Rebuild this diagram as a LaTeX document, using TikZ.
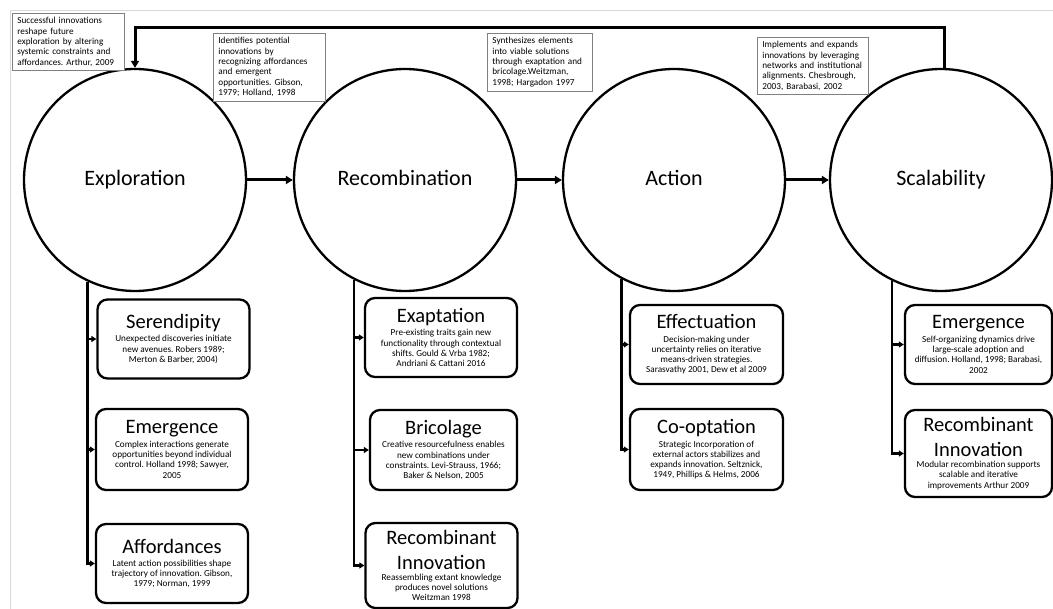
\documentclass[tikz,border=0pt]{standalone}
\usepackage{fontspec}
\setmainfont{Carlito}
\usetikzlibrary{arrows.meta}
\frenchspacing
\definecolor{framecol}{HTML}{D9D9D9}
\definecolor{notecol}{HTML}{808080}
\newcommand{\headfont}{\fontsize{20.5}{22}\selectfont}
\tikzset{
  stage/.style={circle, draw, line width=2.3pt, minimum size=222pt, inner sep=0pt, text height=15pt, text depth=4pt, font=\fontsize{22}{26}\selectfont},
  note/.style={rectangle, draw=notecol, line width=0.8pt, fill=white, anchor=north west, align=left, inner xsep=5pt, inner ysep=4pt, font=\fontsize{9.2}{10.4}\selectfont},
  itembox/.style={rectangle, rounded corners=10pt, draw, line width=2.3pt, fill=white, align=center, minimum width=152pt, minimum height=79pt, inner sep=3pt, font=\fontsize{9.2}{10.3}\selectfont},
  flow/.style={-{Triangle[length=7pt, width=8pt]}, line width=3pt},
  branch/.style={-{Triangle[length=5pt, width=6pt]}, line width=2.3pt},
}
\begin{document}
\begin{tikzpicture}[x=1pt, y=-1pt]
  \useasboundingbox (0,0) rectangle (1053,609);
  \draw[framecol, line width=0.8pt] (10,609) |- (1053,10);

  \node[stage] (expl)   at (135,180) {Exploration};
  \node[stage] (recomb) at (405,180) {Recombination};
  \node[stage] (action) at (674,180) {Action};
  \node[stage] (scal)   at (941,180) {Scalability};
  \draw[flow] (expl) -- (recomb);
  \draw[flow] (recomb) -- (action);
  \draw[flow] (action) -- (scal);
  \coordinate (top) at (0,28);
  \draw[flow] (scal.88) -- (scal.88 |- top) -| (expl.north);

  \node[note, text width=102pt] (n1) at (12,13) {Successful innovations\\reshape future\\exploration by altering\\systemic constraints and\\affordances. Arthur, 2009};
  \node[note, text width=102pt] (n2) at (213,33) {Identifies potential\\innovations by\\recognizing affordances\\and emergent\\opportunities. Gibson,\\1979; Holland, 1998};
  \node[note, text width=95pt] (n3) at (487,33) {Synthesizes elements\\into viable solutions\\through exaptation and\\bricolage.Weitzman,\\1998; Hargadon 1997};
  \node[note, text width=101pt] (n4) at (757,37) {Implements and expands\\innovations by leveraging\\networks and institutional\\alignments. Chesbrough,\\2003, Barabasi, 2002};

  \node[itembox] (seren) at (173.5,339) {{\headfont Serendipity}\\[3pt]Unexpected discoveries initiate\\new avenues. Robers 1989;\\Merton \& Barber, 2004)};
  \node[itembox, minimum height=81pt] (emerg) at (172,449.5) {{\headfont Emergence}\\[3pt]Complex interactions generate\\opportunities beyond individual\\control. Holland 1998; Sawyer,\\2005};
  \node[itembox] (afford) at (172,563.5) {{\headfont Affordances}\\[3pt]Latent action possibilities shape\\trajectory of innovation. Gibson,\\1979; Norman, 1999};

  \node[itembox] (exapt) at (441,337.5) {{\headfont Exaptation}\\[3pt]Pre-existing traits gain new\\functionality through contextual\\shifts. Gould \& Vrba 1982;\\Andriani \& Cattani 2016};
  \node[itembox, minimum width=147pt, minimum height=80pt] (brico) at (443.5,450) {{\headfont Bricolage}\\[3pt]Creative resourcefulness enables\\new combinations under\\constraints. Levi-Strauss, 1966;\\Baker \& Nelson, 2005};
  \node[itembox, minimum height=85pt] (recinn) at (441.5,565.5) {{\headfont Recombinant}\\[9.5pt]{\headfont Innovation}\\[1pt]Reassembling extant knowledge\\produces novel solutions\\Weitzman 1998};

  \node[itembox, minimum width=153pt] (effect) at (706.5,344.5) {{\headfont Effectuation}\\[3pt]Decision-making under\\uncertainty relies on iterative\\means-driven strategies.\\Sarasvathy 2001, Dew et al 2009};
  \node[itembox, minimum width=153pt, minimum height=81pt] (coopt) at (706.5,449.5) {{\headfont Co-optation}\\[3pt]Strategic Incorporation of\\external actors stabilizes and\\expands innovation. Seltznick,\\1949, Phillips \& Helms, 2006};

  \node[itembox, minimum width=147pt] (emerg2) at (978.5,344.5) {{\headfont Emergence}\\[3pt]Self-organizing dynamics drive\\large-scale adoption and\\diffusion. Holland, 1998; Barabasi,\\2002};
  \node[itembox, minimum width=147pt, minimum height=87pt] (recinn2) at (978.5,453.5) {{\headfont Recombinant}\\[9.5pt]{\headfont Innovation}\\[1pt]Modular recombination supports\\scalable and iterative\\improvements Arthur 2009};

  \foreach \b in {seren, emerg, afford} \draw[branch] (expl.245) |- (\b.west);
  \foreach \b in {exapt, brico, recinn} \draw[branch] (recomb.243) |- (\b.west);
  \foreach \b in {effect, coopt} \draw[branch] (action.242) |- (\b.west);
  \foreach \b in {emerg2, recinn2} \draw[branch] (scal.244) |- (\b.west);
\end{tikzpicture}
\end{document}
